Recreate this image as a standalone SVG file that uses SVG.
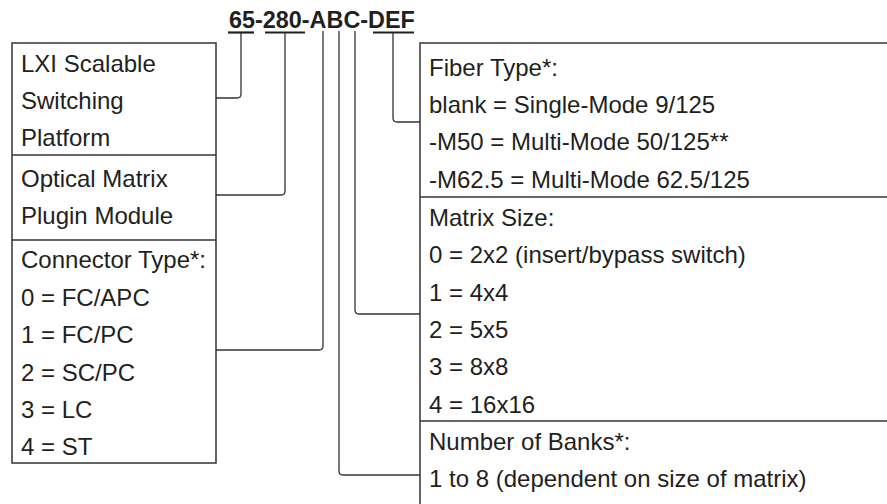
<svg xmlns="http://www.w3.org/2000/svg" width="887" height="504" viewBox="0 0 887 504">
<style>
text{font-family:"Liberation Sans",Arial,sans-serif;fill:#231f20}
.t{font-size:24px}
.title{font-size:23.4px;font-weight:bold}
.box{fill:none;stroke:#333;stroke-width:1.5}
.div{stroke:#333;stroke-width:1.5}
.ul{stroke:#231f20;stroke-width:2.2}
.c{fill:none;stroke:#333;stroke-width:1.3}
</style>
<rect width="887" height="504" fill="#fff"/>
<g id="title">
<text class="title" x="229" y="28">65-280-ABC-DEF</text>
<line class="ul" x1="228" y1="32.5" x2="254" y2="32.5"/>
<line class="ul" x1="265" y1="32.5" x2="305" y2="32.5"/>
<line class="ul" x1="373" y1="32.5" x2="414" y2="32.5"/>
</g>
<g id="left-box">
<rect class="box" x="12" y="43" width="204" height="420"/>
</g>
<g id="platform">
<line class="div" x1="12" y1="155" x2="216" y2="155"/>
<text class="t" x="21" y="72">LXI Scalable</text>
<text class="t" x="21" y="109">Switching</text>
<text class="t" x="21" y="146">Platform</text>
</g>
<g id="module">
<line class="div" x1="12" y1="240" x2="216" y2="240"/>
<text class="t" x="21" y="187">Optical Matrix</text>
<text class="t" x="21" y="224">Plugin Module</text>
</g>
<g id="connector-type">
<text class="t" x="21" y="268">Connector Type*:</text>
<text class="t" x="21" y="306">0 = FC/APC</text>
<text class="t" x="21" y="343">1 = FC/PC</text>
<text class="t" x="21" y="381">2 = SC/PC</text>
<text class="t" x="21" y="418">3 = LC</text>
<text class="t" x="21" y="455">4 = ST</text>
</g>
<g id="right-box">
<rect class="box" x="420" y="43" width="480" height="480"/>
</g>
<g id="fiber-type">
<text class="t" x="429" y="76">Fiber Type*:</text>
<text class="t" x="429" y="113">blank = Single-Mode 9/125</text>
<text class="t" x="429" y="150">-M50 = Multi-Mode 50/125**</text>
<text class="t" x="429" y="188">-M62.5 = Multi-Mode 62.5/125</text>
<line class="div" x1="420" y1="197" x2="887" y2="197"/>
</g>
<g id="matrix-size">
<text class="t" x="429" y="226">Matrix Size:</text>
<text class="t" x="429" y="263">0 = 2x2 (insert/bypass switch)</text>
<text class="t" x="429" y="301">1 = 4x4</text>
<text class="t" x="429" y="338">2 = 5x5</text>
<text class="t" x="429" y="375">3 = 8x8</text>
<text class="t" x="429" y="413">4 = 16x16</text>
<line class="div" x1="420" y1="421" x2="887" y2="421"/>
</g>
<g id="banks">
<text class="t" x="429" y="450">Number of Banks*:</text>
<text class="t" x="429" y="487">1 to 8 (dependent on size of matrix)</text>
</g>
<g id="connectors">
<path class="c" d="M241,33 V94 Q241,98 237,98 H216"/>
<path class="c" d="M285,33 V191 Q285,195 281,195 H216"/>
<path class="c" d="M323,31 V346 Q323,350 319,350 H216"/>
<path class="c" d="M339,31 V471 Q339,475 343,475 H420"/>
<path class="c" d="M355,31 V310 Q355,314 359,314 H420"/>
<path class="c" d="M393,33 V118 Q393,122 397,122 H420"/>
</g>
</svg>
